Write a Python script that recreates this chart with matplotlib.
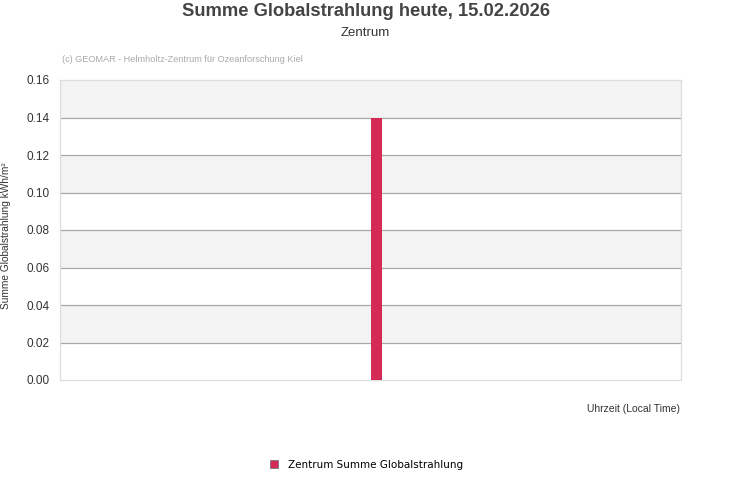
import matplotlib
matplotlib.use("Agg")
import matplotlib.pyplot as plt
from matplotlib.lines import Line2D

categories = ["15.02.2026"]
values = [0.14]
yticks = [0.00, 0.02, 0.04, 0.06, 0.08, 0.10, 0.12, 0.14, 0.16]
series_name = "Zentrum Summe Globalstrahlung"
title = "Summe Globalstrahlung heute, 15.02.2026"
subtitle = "Zentrum"
credit = "(c) GEOMAR - Helmholtz-Zentrum für Ozeanforschung Kiel"
ylabel = "Summe Globalstrahlung kWh/m²"
xlabel = "Uhrzeit (Local Time)"

plt.rcParams['font.family'] = ['Liberation Sans', 'DejaVu Sans']

W, H = 731, 500
fig = plt.figure(figsize=(W/100, H/100), dpi=100)
ax = fig.add_axes([60/W, 1-380/H, 621/W, 300/H])

bar_color = "#d42a55"
ax.bar(range(len(categories)), values, width=0.0177, color=bar_color, zorder=3)
ax.set_xlim(-0.51, 0.49)
ax.set_ylim(0, 0.16)

# alternating bands
for i in range(len(yticks) - 1):
    if i % 2 == 1:
        ax.axhspan(yticks[i], yticks[i+1], color="#f3f3f3", zorder=0, lw=0)
for t in yticks[1:-1]:
    ax.axhline(t, color="#a8a8a8", lw=0.9, zorder=1)

ax.set_yticks(yticks)
ax.set_yticklabels([f"{t:.2f}" for t in yticks], fontsize=8.5, color="#333333")
ax.set_xticks([])
ax.tick_params(axis='y', length=0, pad=7.5)
for s in ax.spines.values():
    s.set_color("#dddddd")
    s.set_linewidth(0.9)

fig.text(365.5/W, 1-12/H, title, ha="center", va="center", fontsize=13.2,
         fontweight="bold", color="#444444")
fig.text(365/W, 1-33/H, subtitle, ha="center", va="center", fontsize=9.5, color="#333333")
fig.text(62/W, 1-60/H, credit, ha="left", va="center", fontsize=6.6, color="#aaaaaa")
fig.text(6/W, 1-236/H, ylabel, ha="center", va="center", rotation=90,
         fontsize=7.3, color="#333333")
fig.text(680/W, 1-409/H, xlabel, ha="right", va="center", fontsize=7.5, color="#333333")

handle = Line2D([], [], marker="s", linestyle="none", markersize=6,
                markerfacecolor=bar_color, markeredgecolor="#777777", markeredgewidth=0.6)
fig.legend([handle], [series_name], loc="center", bbox_to_anchor=(366/W, 1-465/H),
           frameon=False, prop={"family": "DejaVu Sans", "size": 7.5},
           handletextpad=0.8, handlelength=1.0)

fig.savefig("out.png", dpi=100)
